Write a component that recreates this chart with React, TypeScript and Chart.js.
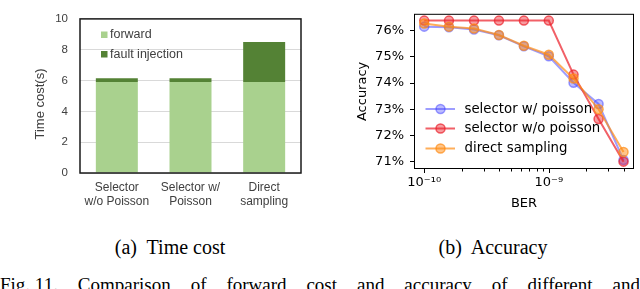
import React, { useEffect, useRef } from 'react';
import { Chart, registerables } from 'chart.js';
Chart.register(...registerables);

// ---- data: (a) time cost ----
const categories = [['Selector', 'w/o Poisson'], ['Selector w/', 'Poisson'], ['Direct', 'sampling']];
const forwardCost = [5.9, 5.9, 5.9];
const faultCost = [0.25, 0.25, 2.6];
const timeTicks = [0, 2, 4, 6, 8, 10];

// ---- data: (b) accuracy ----
const berValues = [1e-10, 1.58e-10, 2.51e-10, 3.98e-10, 6.31e-10, 1e-9, 1.58e-9, 2.51e-9, 3.98e-9];
const accWithPoisson = [76.15, 76.13, 76.04, 75.82, 75.4, 75.02, 74.01, 73.2, 71.06];
const accWithoutPoisson = [76.38, 76.38, 76.38, 76.38, 76.38, 76.38, 74.32, 72.63, 71.0];
const accDirect = [76.27, 76.15, 76.08, 75.83, 75.42, 75.08, 74.17, 73.0, 71.37];
const accTicks = [71, 72, 73, 74, 75, 76];
const berMajor = [1e-10, 1e-9];
const berMinor = [2e-10, 3e-10, 4e-10, 5e-10, 6e-10, 7e-10, 8e-10, 9e-10, 2e-9, 3e-9, 4e-9];

const seriesLabels = ['selector w/ poisson', 'selector w/o poisson', 'direct sampling'];
const seriesLine = ['rgba(60,60,255,0.5)', 'rgba(235,35,45,0.72)', 'rgba(255,140,20,0.7)'];
const seriesFill = ['rgba(60,60,255,0.35)', 'rgba(235,35,45,0.45)', 'rgba(255,140,20,0.5)'];

const ARIAL = "'Liberation Sans', Arial, sans-serif";
const DEJAVU = "'DejaVu Sans', sans-serif";

function TimeChart() {
  const ref = useRef<HTMLCanvasElement>(null);
  useEffect(() => {
    const frame = {
      id: 'frameA',
      afterDraw(chart: any) {
        const { ctx, chartArea: a } = chart;
        ctx.save();
        ctx.strokeStyle = '#1a1a1a';
        ctx.lineWidth = 1.5;
        ctx.strokeRect(a.left, a.top, a.right - a.left, a.bottom - a.top);
        // legend
        const items = [
          { label: 'forward', color: '#a9d18e', y: 34.5 },
          { label: 'fault injection', color: '#548235', y: 54 },
        ];
        ctx.font = `12.5px ${ARIAL}`;
        ctx.textBaseline = 'middle';
        ctx.textAlign = 'left';
        items.forEach((it) => {
          ctx.fillStyle = it.color;
          ctx.fillRect(101, it.y - 3, 6.5, 6.5);
          ctx.fillStyle = '#404040';
          ctx.fillText(it.label, 110, it.y + 0.5);
        });
        // y title
        ctx.translate(40, 104);
        ctx.rotate(-Math.PI / 2);
        ctx.textAlign = 'center';
        ctx.font = `13px ${ARIAL}`;
        ctx.fillText('Time cost(s)', 0, 0);
        ctx.restore();
      },
    };
    const chart = new Chart(ref.current!, {
      type: 'bar',
      data: {
        labels: categories as any,
        datasets: [
          { label: 'forward', data: forwardCost, backgroundColor: '#a9d18e', categoryPercentage: 1, barPercentage: 0.57 },
          { label: 'fault injection', data: faultCost, backgroundColor: '#548235', categoryPercentage: 1, barPercentage: 0.57 },
        ],
      },
      options: {
        responsive: false,
        animation: false,
        layout: { padding: { left: 0, right: 19, top: 10, bottom: 0 } },
        plugins: { legend: { display: false }, tooltip: { enabled: false } },
        scales: {
          x: {
            stacked: true,
            grid: { display: false, drawTicks: false },
            border: { display: false },
            ticks: { font: { family: ARIAL, size: 12, lineHeight: 1.17 }, color: '#404040', padding: 8, maxRotation: 0, autoSkip: false },
            afterFit: (s: any) => { s.height = 52; },
          },
          y: {
            stacked: true,
            min: 0,
            max: 10,
            afterBuildTicks: (s: any) => { s.ticks = timeTicks.map((v) => ({ value: v })); },
            grid: { color: '#d9d9d9', drawTicks: false, lineWidth: 1 },
            border: { display: false },
            ticks: { font: { family: ARIAL, size: 11.5 }, color: '#404040', padding: 12 },
            afterFit: (s: any) => { s.width = 80; },
          },
        },
      },
      plugins: [frame],
    });
    return () => chart.destroy();
  }, []);
  return <canvas ref={ref} width={320} height={225} style={{ position: 'absolute', left: 0, top: 0 }} />;
}

function AccuracyChart() {
  const ref = useRef<HTMLCanvasElement>(null);
  useEffect(() => {
    const deco = {
      id: 'decoB',
      afterDraw(chart: any) {
        const { ctx, chartArea: a, scales } = chart;
        const x = scales.x;
        ctx.save();
        ctx.strokeStyle = '#000';
        ctx.lineWidth = 1;
        ctx.strokeRect(a.left + 0.5, a.top + 0.5, a.right - a.left - 1, a.bottom - a.top - 1);
        ctx.beginPath();
        berMajor.forEach((v) => {
          const p = Math.round(x.getPixelForValue(v)) + 0.5;
          ctx.moveTo(p, a.bottom); ctx.lineTo(p, a.bottom + 4);
        });
        berMinor.forEach((v) => {
          const p = Math.round(x.getPixelForValue(v)) + 0.5;
          ctx.moveTo(p, a.bottom); ctx.lineTo(p, a.bottom + 2.5);
        });
        ctx.stroke();
        // legend
        const rows = [109, 128.5, 148.5];
        ctx.textBaseline = 'middle';
        ctx.textAlign = 'left';
        ctx.font = `13.3px ${DEJAVU}`;
        rows.forEach((y, i) => {
          ctx.strokeStyle = seriesLine[i];
          ctx.lineWidth = 2;
          ctx.beginPath(); ctx.moveTo(105.5, y); ctx.lineTo(135, y); ctx.stroke();
          ctx.beginPath(); ctx.arc(120.5, y, 4.5, 0, Math.PI * 2);
          ctx.fillStyle = seriesFill[i]; ctx.fill();
          ctx.lineWidth = 1.5; ctx.stroke();
          ctx.fillStyle = '#000';
          ctx.fillText(seriesLabels[i], 144.5, y + 0.5);
        });
        // titles
        ctx.font = `13px ${DEJAVU}`;
        ctx.textAlign = 'center';
        ctx.fillText('BER', (a.left + a.right) / 2, 204);
        ctx.translate(43, (a.top + a.bottom) / 2);
        ctx.rotate(-Math.PI / 2);
        ctx.fillText('Accuracy', 0, 0);
        ctx.restore();
      },
    };
    const series = [accWithPoisson, accWithoutPoisson, accDirect];
    const chart = new Chart(ref.current!, {
      type: 'line',
      data: {
        datasets: series.map((s, i) => ({
          label: seriesLabels[i],
          data: berValues.map((b, j) => ({ x: b, y: s[j] })),
          borderColor: seriesLine[i],
          backgroundColor: seriesFill[i],
          pointBackgroundColor: seriesFill[i],
          pointBorderColor: seriesLine[i],
          pointRadius: 4.5,
          pointBorderWidth: 1.5,
          borderWidth: 2,
          order: 3 - i,
        })),
      },
      options: {
        responsive: false,
        animation: false,
        layout: { padding: { left: 0, right: 4, top: 2, bottom: 0 } },
        plugins: { legend: { display: false }, tooltip: { enabled: false } },
        scales: {
          x: {
            type: 'logarithmic',
            min: 8.28e-11,
            max: 4.83e-9,
            afterBuildTicks: (s: any) => { s.ticks = berMajor.map((v) => ({ value: v, major: true })); },
            grid: { display: false, drawTicks: false },
            border: { display: false },
            ticks: {
              font: { family: DEJAVU, size: 13 },
              color: '#000',
              padding: 6,
              maxRotation: 0,
              autoSkip: false,
              callback: (v: any) => (Math.abs(Math.log10(v) + 10) < 0.01 ? '10\u207B\u00B9\u2070' : '10\u207B\u2079'),
            },
            afterFit: (s: any) => { s.height = 56; },
          },
          y: {
            min: 70.72,
            max: 76.64,
            afterBuildTicks: (s: any) => { s.ticks = accTicks.map((v) => ({ value: v })); },
            grid: { drawOnChartArea: false, drawTicks: true, tickLength: 4, color: '#000', tickWidth: 1 },
            border: { display: false },
            ticks: { font: { family: DEJAVU, size: 13 }, color: '#000', padding: 6, callback: (v: any) => `${v}%` },
            afterFit: (s: any) => { s.width = 94; },
          },
        },
      },
      plugins: [deco],
    });
    return () => chart.destroy();
  }, []);
  return <canvas ref={ref} width={320} height={225} style={{ position: 'absolute', left: 320, top: 0 }} />;
}

const figWords = ['Fig. 11.', 'Comparison', 'of', 'forward', 'cost', 'and', 'accuracy', 'of', 'different', 'and'];

export default function App() {
  const serif = "'Liberation Serif', 'Times New Roman', serif";
  const cap = { position: 'absolute' as const, width: 200, top: 237, textAlign: 'center' as const, fontFamily: serif, fontSize: 20, lineHeight: '20px', color: '#000', whiteSpace: 'nowrap' as const };
  return (
    <div style={{ position: 'fixed', left: 0, top: 0, width: 640, height: 289, background: '#fff', overflow: 'hidden' }}>
      <TimeChart />
      <AccuracyChart />
      <div style={{ ...cap, left: 70 }}>(a)&nbsp; Time cost</div>
      <div style={{ ...cap, left: 393 }}>(b)&nbsp; Accuracy</div>
      <div style={{ position: 'absolute', left: 0, width: 640, top: 275, display: 'flex', justifyContent: 'space-between', fontFamily: serif, fontSize: 19, lineHeight: '20px', color: '#000', whiteSpace: 'nowrap' }}>
        {figWords.map((w, i) => <span key={i}>{w}</span>)}
      </div>
    </div>
  );
}
